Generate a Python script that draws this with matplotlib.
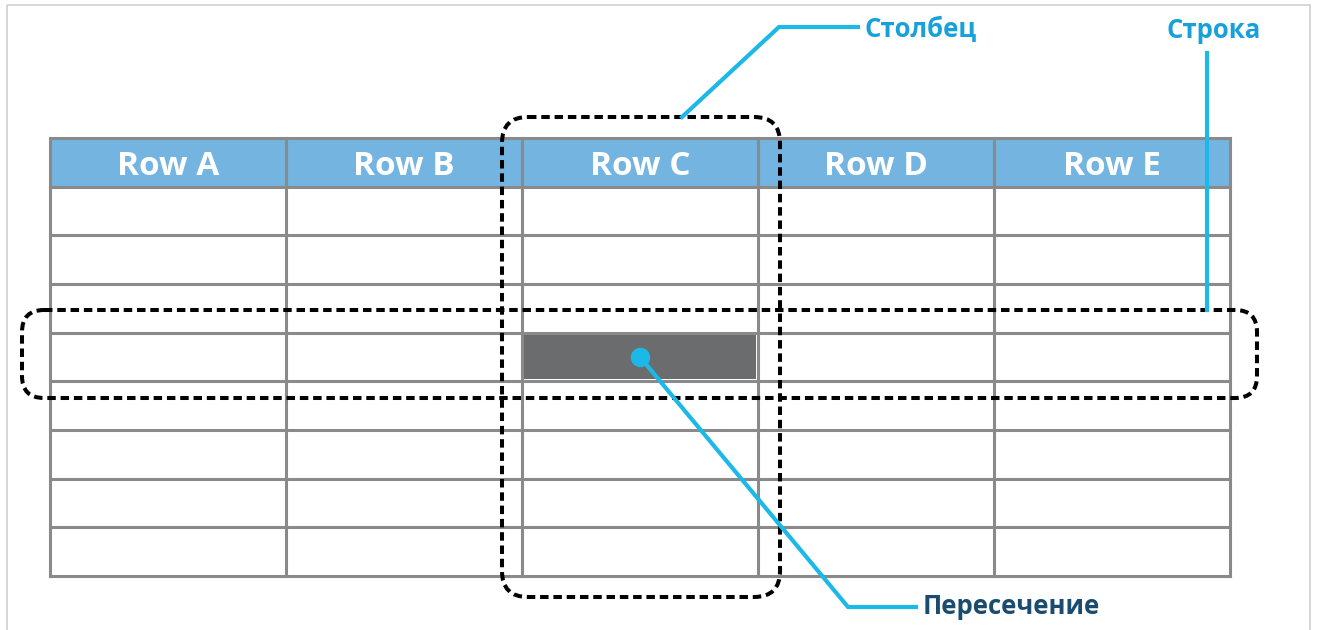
import matplotlib.pyplot as plt
from matplotlib.patches import FancyBboxPatch, Rectangle

# Table content
headers = ["Row A", "Row B", "Row C", "Row D", "Row E"]
n_body_rows = 8
highlight_row = 3   # body row index (0-based)
highlight_col = 2   # column index (0-based)

# Callout labels
label_column = "Столбец"
label_row = "Строка"
label_cell = "Пересечение"

# Colours
header_blue = "#74b4e1"
grid_grey = "#8a8a8a"
cell_dark = "#6b6c6e"
cyan = "#1cb8e8"
label_cyan = "#17a0da"
label_navy = "#1b4c6f"

plt.rcParams['font.family'] = ['Open Sans', 'DejaVu Sans']

W, H = 1317, 630
fig = plt.figure(figsize=(W / 100, H / 100), dpi=100)
ax = fig.add_axes([0, 0, 1, 1])
ax.set_xlim(0, W)
ax.set_ylim(H, 0)
ax.axis('off')

# Outer frame
ax.add_patch(Rectangle((7, 5), 1303, 640, fill=False, ec="#cfcfcf", lw=1.2))

# Table geometry (pixels)
x0, x1 = 50, 1230
y0, y1 = 138, 576
n_cols = len(headers)
n_rows = n_body_rows + 1
cw = (x1 - x0) / n_cols
rh = (y1 - y0) / n_rows

# Header fill
ax.add_patch(Rectangle((x0, y0), x1 - x0, rh, fc=header_blue, ec="none", zorder=1))
for i, h in enumerate(headers):
    ax.text(x0 + cw * (i + 0.5), y0 + rh / 2 + 4, h, ha='center', va='center',
            color='white', fontsize=24, fontweight='bold', zorder=3)

# Highlighted intersection cell
hx = x0 + cw * highlight_col
hy = y0 + rh * (highlight_row + 1)
ax.add_patch(Rectangle((hx + 2, hy + 2), cw - 4, rh - 4, fc=cell_dark, ec="none", zorder=1))

# Grid lines
for r in range(n_rows + 1):
    ax.plot([x0, x1], [y0 + r * rh] * 2, color=grid_grey, lw=2.2, zorder=2,
            solid_capstyle='projecting')
for c in range(n_cols + 1):
    ax.plot([x0 + c * cw] * 2, [y0, y1], color=grid_grey, lw=2.2, zorder=2,
            solid_capstyle='projecting')

# Dashed rounded outlines: column and row
dash = dict(fill=False, ec='black', lw=2.9, linestyle=(0, (2.1, 1.2)), zorder=4)
ax.add_patch(FancyBboxPatch((502, 117), 278, 480,
                            boxstyle="round,pad=0,rounding_size=26", **dash))
ax.add_patch(FancyBboxPatch((22, 310), 1235, 88,
                            boxstyle="round,pad=0,rounding_size=22", **dash))

# Callouts
ax.plot([682, 779, 858], [117, 27, 27], color=cyan, lw=3, zorder=5,
        solid_joinstyle='miter')
ax.text(864, 29, label_column, ha='left', va='center', color=label_cyan,
        fontsize=18.5, fontweight='bold', zorder=5)

ax.plot([1207, 1207], [53, 310], color=cyan, lw=3, zorder=5)
ax.text(1214, 31, label_row, ha='center', va='center', color=label_cyan,
        fontsize=18.5, fontweight='bold', zorder=5)

cx, cy = hx + cw / 2, hy + rh / 2
ax.plot([cx, 848, 916], [cy, 607, 607], color=cyan, lw=3, zorder=5,
        solid_joinstyle='miter')
ax.plot(cx, cy, 'o', color=cyan, ms=13, zorder=6)
ax.text(923, 607, label_cell, ha='left', va='center', color=label_navy,
        fontsize=18.5, fontweight='bold', zorder=5)

fig.savefig("out.png", dpi=100, facecolor='white')
